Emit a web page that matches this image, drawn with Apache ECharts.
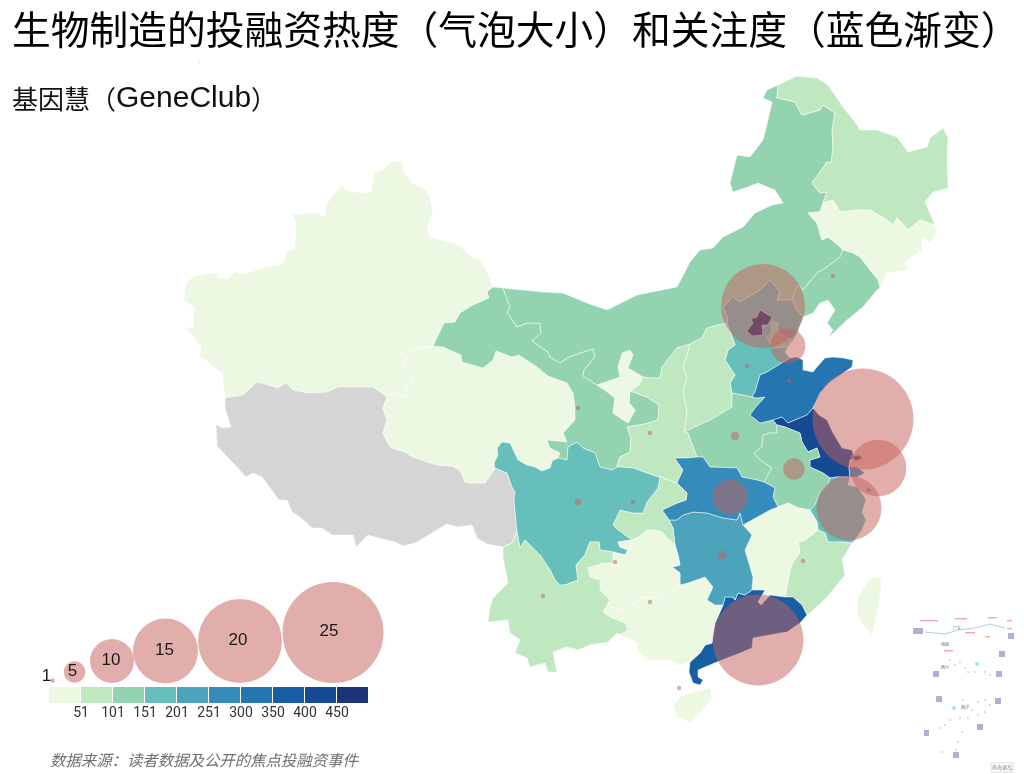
<!DOCTYPE html>
<html><head><meta charset="utf-8">
<style>html,body{margin:0;padding:0;background:#fff}#c{width:1024px;height:774px}</style>
<script src="https://cdn.jsdelivr.net/npm/echarts@6/dist/echarts.min.js"></script>
</head><body><div id="c"></div>
<script>
// ---- chart values ----
const provinceNames = ['新疆','西藏','青海','甘肃','宁夏','内蒙古','黑龙江','吉林','辽宁','河北','山西','陕西','河南','山东','江苏','上海','安徽','浙江','福建','江西','广东','广西','湖南','湖北','重庆','四川','贵州','云南','海南','台湾','天津','北京'];
const attention =     [25,null,30,130,35,125,80,20,120,180,75,70,130,320,430,280,125,170,70,40,380,30,230,280,75,170,30,70,20,10,120,470];
const bubbleCities = ['北京','江苏','浙江','上海','广东','天津','湖北','安徽','河南','湖南','山东','河北','陕西','四川','重庆','贵州','云南','广西','海南','福建','辽宁','甘肃'];
const bubbleLon =    [763,863,849,878,758,788,730,794,735,722,789,747,650,578,633,615,543,650,679,803,833,578];
const bubbleLat =    [468,355,266,306,134,428,277,305,338,219,393,408,341,272,272,212,178,172,86,213,498,366];
const bubbleDeals =  [20,25,15,13,22,8,8,5,2,2,1,1,1,1.5,1,1,1,1,1,1,1,1];
const sizeLegendValues = [1,5,10,15,20,25];
const sizeLegendLon = [52.5,74.5,112,165.5,240,333];
const sizeLegendLat = [93.5,102,113,123,133,141.5];
const sizeStops = [4.5,21.5,44,65,84,101];
const sizeLabelOffset = [[-6,-4],[-2,-1],[-1,-1],[-1,-1],[-2,-1],[-4,-1]];
const colourBins = ['#edf8e2','#bfe8c0','#93d3b0','#66bfba','#4ca3bc','#358cba','#2575b0','#175ea5','#174a95','#1b3578'];
const binEdges = [1,51,101,151,201,251,300,350,400,450,100000];
const tickLabels = ['51','101','151','201','251','300','350','400','450'];
// ---- traced map outlines (map units, y down) ----
const chains = {
XJ_N:'225,398 223,383 223,373 213,367 205,359 200,357 201,347 193,335 184,328 193,327 194,307 184,300 185,286 192,277 207,273 217,274 218,278 227,279 235,272 245,274 262,268 283,264 287,253 295,247 296,222 293,214 317,213 325,217 326,205 341,185 348,191 362,193 371,192 374,173 383,170 392,161 403,163 404,173 412,183 427,190 433,210 427,230 430,237 457,244 472,257 482,260 493,287',
XJ_GS:'493,287 487,292 489,298 473,305 460,313 455,322 444,323 433,346',
XJ_QH:'433,346 400,353 405,358 405,367 413,380 405,385 408,397 393,393 387,397',
XJ_XZ:'387,397 373,387 338,387 327,392 308,393 293,390 286,383 278,388 257,382 243,395 230,397 225,398',
XZ_W:'225,398 225,408 231,427 222,428 216,424 217,446 235,465 246,477 253,473 262,477 279,500 287,500 292,512 300,517 312,528 322,528 332,535 353,535 356,547 368,535 378,538 395,542 403,546 415,543 447,524 457,527 472,525 477,538 487,544 503,547',
XZ_YN:'503,547 512,543 517,532',
SC_XZ:'517,532 514,500 515,492 512,487 507,473 495,468',
QH_XZ:'495,468 485,483 473,483 465,482 460,470 452,466 437,465 413,457 405,452 390,447 383,433 387,420 383,408 387,397',
GS_QH:'433,346 443,347 461,355 462,362 483,368 493,360 496,351 512,357 519,355 537,367 548,376 567,383 573,393 575,407 575,420 563,433 567,442 547,440 550,448 560,453 558,458',
SC_QH:'558,458 552,461 550,468 542,471 535,467 527,465 518,460 510,443 502,442 497,448 498,455 494,463 495,468',
GS_N:'493,287 503,288',
GS_IM:'503,288 510,307 507,312 517,327 527,323 540,323 541,333 532,341 548,352 550,357 560,363 567,358 580,353 593,349 595,357 584,370 583,376 597,385',
NX_GS:'630,391 629,403 635,410 628,423 613,413 615,398 605,390 597,385',
NX_IM:'597,385 620,377 618,367 622,353 630,350 633,355 628,368 643,377',
NX_SN:'643,377 639,385 630,391',
GS_SN:'617,467 620,457 630,452 631,438 627,427 645,424 658,420 659,405 647,397 630,391',
SC_GS:'558,458 567,460 568,447 577,442 583,448 595,453 600,467 612,470 617,467',
IM_N:'503,288 543,292 563,293 587,303 607,310 637,295 677,287 690,262 700,250 713,248 723,237 743,227 755,213 772,205 783,203 775,190 758,183 745,188 733,192 730,183 737,155 750,157 763,140 768,120 772,102 763,98 767,90 778,85',
IM_HLJ:'778,85 777,98 787,100 795,102 802,115 820,110 823,105 835,113 832,130 833,148 831,163 827,162 812,183 820,193 827,192 823,203',
IM_JL:'823,203 820,212 808,213 817,223 822,240 828,237 838,245 843,250',
IM_LN:'843,250 840,257 827,267 817,273 803,290 797,285 792,300',
HE_IM:'792,300 777,300 780,292 770,280 760,290 740,302 733,297 723,307 728,318 727,323',
SX_IM:'727,323 718,325 707,328 702,338 690,344',
SN_IM:'690,344 677,348 662,367 660,378 650,378 643,377',
HLJ_N:'778,85 797,76 817,78 828,85 843,107 855,122 860,130 877,130 897,137 908,152 927,147 930,138 943,128 948,138 947,160 948,188 933,192 925,202 935,225',
HLJ_JL:'823,203 833,200 840,212 857,210 870,210 887,220 893,225 897,218 908,230 920,220 935,225',
JL_E:'935,225 937,233 930,242 922,238 922,250 905,262 908,270 893,272 887,273 880,288',
JL_LN:'880,288 878,280 870,270 860,257 853,253 843,250',
LN_S:'880,288 877,290 863,307 847,320 828,338 833,330 827,323 835,310 828,300 820,303 813,313 803,317',
HE_LN:'792,300 797,310 803,317',
HE_C:'803,317 800,325 798,332 792,342 788,347 785,352 790,358',
HE_SD:'752,397 755,392 760,375 767,372 780,364 790,358',
HE_HA:'752,397 732,393',
SX_HE:'727,323 735,345 728,350 725,360 735,375 730,383 732,393',
SX_HA:'732,393 732,407 710,420 684,432',
SN_SX:'690,344 683,368 687,378 683,392 687,413 684,432',
SN_HA:'684,432 688,433 697,457',
SN_HB:'697,457 687,458 675,458 678,463 683,470 677,483',
CQ_SN:'677,483 660,477',
SC_SN:'617,467 620,467 633,468 658,477 660,477',
HA_SD:'752,397 757,398 765,397 755,408 750,415 760,423 773,420',
HA_JS:'773,420 777,425',
HA_AH:'764,482 772,468 760,460 754,453 762,447 763,435 770,433 777,433 777,425',
HA_HB:'697,457 703,457 710,467 737,468 742,477 757,480 764,482',
SD_C:'790,358 797,357 803,360 803,370 813,372 817,367 825,358 833,357 843,358 853,360 852,367 830,382 827,385 820,393 813,408',
SD_JS:'773,420 782,417 788,423 807,415 813,408',
JS_C:'813,408 819,415 827,420 833,433 842,448 852,450 854,457 850,460 849,467',
JS_SH:'849,467 850,477',
SH_C:'849,467 857,467 865,473 857,477 850,477',
JS_ZJ:'830,478 837,477 850,477',
AH_JS:'777,425 785,427 800,433 802,442 808,452 817,448 820,457 810,460 810,467 823,473 830,478',
AH_ZJ:'810,510 815,505 820,493 828,485 830,478',
JX_AH:'810,510 798,508 788,503 778,507',
HB_AH:'764,482 775,488 773,497 778,507',
ZJ_C:'850,477 848,485 858,487 866,500 862,512 866,520 862,530 855,540 852,543',
FJ_ZJ:'818,530 825,533 828,542 842,542 852,543',
JX_ZJ:'810,510 817,522 818,530',
FJ_C:'852,543 842,560 845,575 827,597 810,613 807,615',
GD_FJ:'785,597 793,597 802,605 807,615',
JX_FJ:'818,530 805,540 798,542 800,552 793,562 790,570 785,597',
JX_GD:'752,590 765,590 758,602 761,605 770,595 785,597',
JX_HN:'743,525 752,535 745,550 753,577 752,590',
JX_HB:'743,525 752,520 770,510 778,507',
GD_C:'807,615 800,623 787,632 780,633 753,638 752,648 740,653 727,658 717,662 705,667 698,670 698,677 703,680 700,685 693,683 689,672 690,662',
GX_GD:'723,605 715,623 712,643 705,645 700,653 690,662',
HN_GD:'723,605 725,597 733,597 735,600 738,593 745,595 752,590',
GZ_GX:'603,612 610,607 625,610 643,597 660,598 673,590 680,585',
GX_HN:'680,585 688,583 705,577 713,587 707,600 715,605 723,605',
GX_C:'620,635 637,643 637,650 647,660 670,660 680,665 690,662',
YN_GX:'603,612 610,617 625,623 628,630 620,635',
HB_HN:'669,520 677,520 683,515 693,512 707,513 723,518 737,520 740,513 743,525',
GZ_HN:'680,585 680,573 672,567 680,565 678,555 675,545',
CQ_HN:'669,520 673,528 675,545',
CQ_HB:'677,483 687,493 686,500 677,503 662,510 669,520',
CQ_GZ:'675,545 667,538 662,532 653,530 647,530 637,538 632,540',
CQ_SC:'632,540 618,530 613,525 620,510 633,513 643,513 647,502 658,488 660,477',
SC_GZ:'632,540 618,542 620,547 628,550 625,555 613,552',
SC_YN:'613,552 600,550 599,542 590,542 585,555 576,565 578,580 565,585 560,585 555,580 550,570 540,555 533,548 525,540 520,548 517,532',
YN_GZ:'613,552 613,563 603,563 588,568 590,577 600,580 600,590 610,600 603,612',
YN_S:'503,547 503,558 508,583 493,598 490,607 488,622 508,620 510,633 520,640 515,653 527,658 530,667 545,663 548,672 557,672 553,652 567,647 578,650 590,645 608,642 617,633 620,635'
};
const provinceChains = {
'新疆':['XJ_N','XJ_GS','XJ_QH','XJ_XZ'],
'西藏':['XZ_W','XZ_YN','SC_XZ','QH_XZ','XJ_XZ'],
'青海':['GS_QH','SC_QH','QH_XZ','-XJ_QH'],
'甘肃':['GS_N','GS_IM','-NX_GS','-GS_SN','-SC_GS','-GS_QH','-XJ_GS'],
'宁夏':['NX_IM','NX_SN','NX_GS'],
'内蒙古':['IM_N','IM_HLJ','IM_JL','IM_LN','HE_IM','SX_IM','SN_IM','-NX_IM','-GS_IM'],
'黑龙江':['HLJ_N','-HLJ_JL','-IM_HLJ'],
'吉林':['HLJ_JL','JL_E','JL_LN','-IM_JL'],
'辽宁':['-JL_LN','LN_S','-HE_LN','-IM_LN'],
'河北':['-HE_IM','HE_LN','HE_C','-HE_SD','HE_HA','-SX_HE'],
'山西':['SX_HE','SX_HA','-SN_SX','-SX_IM'],
'陕西':['-SN_IM','SN_SX','SN_HA','SN_HB','CQ_SN','-SC_SN','GS_SN','-NX_SN'],
'河南':['-SX_HA','-HE_HA','HA_SD','HA_JS','-HA_AH','-HA_HB','-SN_HA'],
'山东':['HE_SD','SD_C','-SD_JS','-HA_SD'],
'江苏':['SD_JS','JS_C','JS_SH','-JS_ZJ','-AH_JS','-HA_JS'],
'上海':['SH_C','-JS_SH'],
'安徽':['AH_JS','-AH_ZJ','JX_AH','-HB_AH','HA_AH'],
'浙江':['JS_ZJ','ZJ_C','-FJ_ZJ','-JX_ZJ','AH_ZJ'],
'福建':['FJ_ZJ','FJ_C','-GD_FJ','-JX_FJ'],
'江西':['JX_ZJ','JX_FJ','-JX_GD','-JX_HN','JX_HB','-JX_AH'],
'广东':['JX_GD','GD_FJ','GD_C','-GX_GD','HN_GD'],
'广西':['GZ_GX','GX_HN','GX_GD','-GX_C','-YN_GX'],
'湖南':['HB_HN','JX_HN','-HN_GD','-GX_HN','GZ_HN','-CQ_HN'],
'湖北':['HA_HB','HB_AH','-JX_HB','-HB_HN','-CQ_HB','-SN_HB'],
'重庆':['-CQ_SN','CQ_HB','CQ_HN','CQ_GZ','CQ_SC'],
'四川':['SC_SN','-CQ_SC','SC_GZ','SC_YN','SC_XZ','-SC_QH','SC_GS'],
'贵州':['-CQ_GZ','-GZ_HN','-GZ_GX','-YN_GZ','-SC_GZ'],
'云南':['YN_GZ','YN_GX','-YN_S','XZ_YN','-SC_YN']
};
const extraRings = {
'海南':['673,705 680,697 693,692 710,688 712,697 703,710 690,722 677,717'],
'台湾':['873,577 881,578 881,590 877,613 872,635 862,623 857,613 858,597 867,583'],
'天津':['772,322 778,323 777,332 792,340 788,347 773,348 767,338 772,333'],
'北京':['760,310 765,313 772,317 768,325 762,325 763,335 752,336 747,331 753,323 751,319 757,317']
};
const islandRings = {'江苏':['851,456 860,455 862,459 855,461'],'浙江':['866,488 871,488 871,492 867,492']};
// ---- build map ----
const parse = s => s.trim().split(/\s+/).map(p => { const [x,y] = p.split(',').map(Number); return [x, 774 - y]; });
function ringOf(list){
  let out = [];
  list.forEach(k => {
    let pts = parse(chains[k.replace('-','')]);
    if (k[0] === '-') pts.reverse();
    pts.forEach(p => { const l = out[out.length-1]; if (!l || l[0]!==p[0] || l[1]!==p[1]) out.push(p); });
  });
  out.push(out[0]);
  return out;
}
const closeRing = s => { const r = parse(s); r.push(r[0]); return r; };
const features = provinceNames.map(name => {
  const polys = [];
  if (provinceChains[name]) polys.push([ringOf(provinceChains[name])]);
  (extraRings[name]||[]).forEach(s => polys.push([closeRing(s)]));
  (islandRings[name]||[]).forEach(s => polys.push([closeRing(s)]));
  return {type:'Feature',properties:{name},geometry:{type:'MultiPolygon',coordinates:polys}};
});
echarts.registerMap('cn',{type:'FeatureCollection',features});
const chart = echarts.init(document.getElementById('c'),null,{renderer:'canvas'});
function sizeOf(v){
  const s = sizeLegendValues, d = sizeStops;
  for (let i=1;i<s.length;i++) if (v<=s[i]) return d[i-1]+(d[i]-d[i-1])*(v-s[i-1])/(s[i]-s[i-1]);
  return d[d.length-1];
}
const CJK = '"Noto Sans CJK SC","Liberation Sans",sans-serif';
const BUBBLE_COLOUR = 'rgba(197,93,89,0.5)';
const pieces = colourBins.map((c,i)=>({min:binEdges[i],max:binEdges[i+1]-1,color:c}));
const graphics = [
 {type:'text',left:12,top:10,style:{text:'生物制造的投融资热度（气泡大小）和关注度（蓝色渐变）',font:'38.75px '+CJK,fill:'#000'}},
 {type:'text',left:12,top:84,style:{text:'{a|基因慧（}{b|GeneClub}{a|）}',fill:'#111',
   rich:{a:{fontFamily:'Noto Sans CJK SC',fontSize:26,fill:'#111',color:'#111'},b:{fontFamily:'Liberation Sans',fontSize:30,fill:'#111',color:'#111'}}}},
 {type:'text',left:50,top:752,style:{text:'数据来源：读者数据及公开的焦点投融资事件',font:'italic 15.4px '+CJK,fill:'#6e6e6e'}},
 {type:'circle',shape:{cx:199,cy:62,r:.5},style:{fill:'#999'}}
];
tickLabels.forEach((t,i)=>graphics.push({type:'text',x:81+i*32,y:713,style:{text:t,font:'14px Roboto',fill:'#333',align:'center',verticalAlign:'middle'}}));
// inset: South China Sea sketch
const insetBlobs = [[913,628,10,6],[1008,633,6,6],[999,651,6,6],[996,671,6,6],[933,671,6,6],[936,696,6,6],[995,698,6,6],[977,724,6,6],[924,730,5,6],[953,752,6,6]];
const insetDots = [[950,660],[955,665],[960,662],[965,668],[968,672],[975,672],[985,672],[990,675],[963,700],[968,705],[972,710],[978,702],[985,700],[990,705],[985,712],[978,715],[968,718],[960,718],[950,720],[945,725],[940,728],[962,732],[958,742],[956,750],[942,752]];
const insetReds = [[920,620,18],[955,618,12],[988,617,9],[1007,620,5],[1007,628,5],[965,632,10],[944,650,9],[985,636,5]];
const insetText = [['广东',957,626],['海南',945,642],['南沙',965,705],['西沙',945,665]];
graphics.push({type:'rect',shape:{x:991,y:763,width:22,height:9},style:{fill:'#fff',stroke:'#ddd',lineWidth:1}});
graphics.push({type:'text',x:1002,y:767,style:{text:'南海诸岛',font:'5px '+CJK,fill:'#777',align:'center',verticalAlign:'middle'}});
insetBlobs.forEach(b=>graphics.push({type:'rect',shape:{x:b[0],y:b[1],width:b[2],height:b[3]},style:{fill:'#8f8cc4',opacity:.7}}));
insetDots.forEach(d=>graphics.push({type:'circle',shape:{cx:d[0],cy:d[1],r:.8},style:{fill:'#e59acb'}}));
insetReds.forEach(r=>graphics.push({type:'rect',shape:{x:r[0],y:r[1],width:r[2],height:1.4},style:{fill:'#ee6a6a',opacity:.6}}));
insetText.forEach(t=>graphics.push({type:'text',x:t[1],y:t[2],style:{text:t[0],font:'4px '+CJK,fill:'#666',align:'center'}}));
graphics.push({type:'polyline',shape:{points:[[925,632],[945,634],[958,630],[975,628],[990,624],[1005,628]]},style:{stroke:'#a9cfe8',lineWidth:1,fill:null}});
graphics.push({type:'circle',shape:{cx:977,cy:664,r:2},style:{fill:'#a8e0f5'}});
graphics.push({type:'circle',shape:{cx:954,cy:708,r:2},style:{fill:'#a8e0f5'}});
chart.setOption({
  animation:false,
  backgroundColor:'#fff',
  graphic:graphics,
  visualMap:{type:'piecewise',seriesIndex:0,orient:'horizontal',left:49,top:687,padding:0,itemWidth:31,itemHeight:16,itemGap:1,showLabel:false,selectedMode:false,hoverLink:false,align:'left',pieces,itemSymbol:'rect',textGap:0},
  geo:{map:'cn',roam:false,silent:true,aspectScale:1,left:0,top:0,width:1024,height:774,boundingCoords:[[0,774],[1024,0]],
       itemStyle:{areaColor:'#d5d5d5',borderColor:'#ffffff',borderWidth:0.5},label:{show:false},emphasis:{disabled:true}},
  series:[
   {type:'map',geoIndex:0,silent:true,data:provinceNames.map((n,i)=>({name:n,value:attention[i]==null?NaN:attention[i]}))},
   {type:'scatter',coordinateSystem:'geo',silent:true,z:5,
    data:bubbleCities.map((n,i)=>({name:n,value:[bubbleLon[i],bubbleLat[i],bubbleDeals[i]]})),
    symbolSize:v=>sizeOf(v[2]),itemStyle:{color:BUBBLE_COLOUR,opacity:1,borderWidth:0}},
   {type:'scatter',coordinateSystem:'geo',silent:true,z:5,
    data:sizeLegendValues.map((v,i)=>({value:[sizeLegendLon[i],sizeLegendLat[i],v],
      label:{offset:sizeLabelOffset[i]}})),
    symbolSize:v=>sizeOf(v[2]),itemStyle:{color:BUBBLE_COLOUR,opacity:1,borderWidth:0},
    label:{show:true,color:'#1a1a1a',fontSize:17,fontFamily:'Liberation Sans',position:'inside',formatter:p=>p.value[2]}}
  ]
});
</script></body></html>
